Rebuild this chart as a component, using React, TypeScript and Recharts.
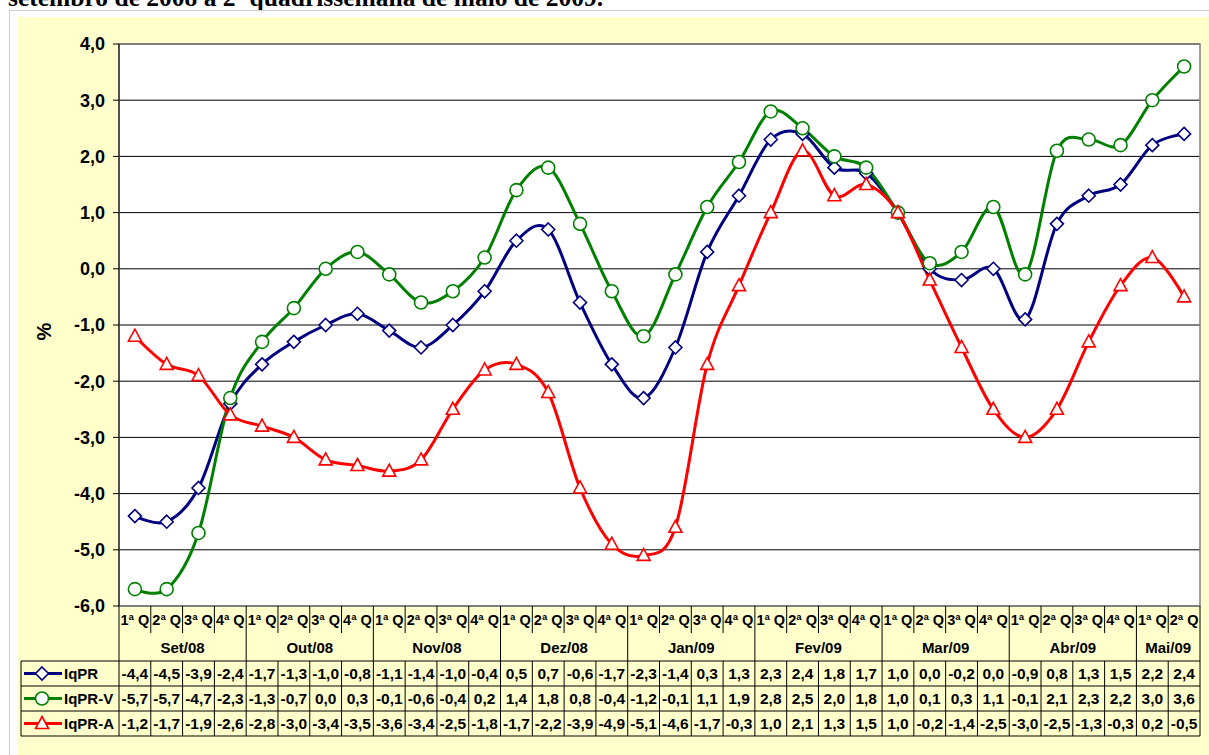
import React from "react";
import {
  ComposedChart,
  Line,
  XAxis,
  YAxis,
  CartesianGrid,
  ReferenceArea,
} from "recharts";

const QUADS = ["1ª Q", "2ª Q", "3ª Q", "4ª Q"];
const MONTHS = ["Set/08", "Out/08", "Nov/08", "Dez/08", "Jan/09", "Fev/09", "Mar/09", "Abr/09", "Mai/09"];
const MONTH_SIZES = [4, 4, 4, 4, 4, 4, 4, 4, 2];

const IQPR = [-4.4, -4.5, -3.9, -2.4, -1.7, -1.3, -1.0, -0.8, -1.1, -1.4, -1.0, -0.4, 0.5, 0.7, -0.6, -1.7, -2.3, -1.4, 0.3, 1.3, 2.3, 2.4, 1.8, 1.7, 1.0, 0.0, -0.2, 0.0, -0.9, 0.8, 1.3, 1.5, 2.2, 2.4];
const IQPR_V = [-5.7, -5.7, -4.7, -2.3, -1.3, -0.7, 0.0, 0.3, -0.1, -0.6, -0.4, 0.2, 1.4, 1.8, 0.8, -0.4, -1.2, -0.1, 1.1, 1.9, 2.8, 2.5, 2.0, 1.8, 1.0, 0.1, 0.3, 1.1, -0.1, 2.1, 2.3, 2.2, 3.0, 3.6];
const IQPR_A = [-1.2, -1.7, -1.9, -2.6, -2.8, -3.0, -3.4, -3.5, -3.6, -3.4, -2.5, -1.8, -1.7, -2.2, -3.9, -4.9, -5.1, -4.6, -1.7, -0.3, 1.0, 2.1, 1.3, 1.5, 1.0, -0.2, -1.4, -2.5, -3.0, -2.5, -1.3, -0.3, 0.2, -0.5];

const Y_TICKS = [-6, -5, -4, -3, -2, -1, 0, 1, 2, 3, 4];

const SERIES = [
  { key: "iqpr", name: "IqPR", values: IQPR, color: "#000080", marker: "diamond" },
  { key: "iqprV", name: "IqPR-V", values: IQPR_V, color: "#008000", marker: "circle" },
  { key: "iqprA", name: "IqPR-A", values: IQPR_A, color: "#FF0000", marker: "triangle" },
];

const FONT = "Arial, 'Liberation Sans', sans-serif";

// layout
const W = 1209;
const H = 755;
const PLOT_L = 119;
const PLOT_R = 1200;
const PLOT_B = 606;
const CAT_ROW_B = 633;
const MONTH_ROW_B = 661;
const ROW_H = 25;
const TABLE_L = 21;

// category labels + which index starts a month
const quadLabels: string[] = [];
const monthStart: Record<number, number> = {};
MONTH_SIZES.forEach((n, m) => {
  monthStart[quadLabels.length] = m;
  for (let j = 0; j < n; j++) quadLabels.push(QUADS[j]);
});

const data = quadLabels.map((q, i) => ({
  idx: i,
  q,
  iqpr: IQPR[i],
  iqprV: IQPR_V[i],
  iqprA: IQPR_A[i],
}));

const BAND = (PLOT_R - PLOT_L) / data.length;
const fmt = (v: number) => v.toFixed(1).replace(".", ",");

// Excel-like smoothing (Catmull-Rom)
const smooth = (context: any) => {
  let x0 = NaN, y0 = NaN, x1 = NaN, y1 = NaN, x2 = NaN, y2 = NaN;
  let pt = 0;
  let line = NaN;
  const k = 1 / 6;
  const seg = (x: number, y: number) =>
    context.bezierCurveTo(
      x1 + k * (x2 - x0),
      y1 + k * (y2 - y0),
      x2 + k * (x1 - x),
      y2 + k * (y1 - y),
      x2,
      y2
    );
  return {
    areaStart() { line = 0; },
    areaEnd() { line = NaN; },
    lineStart() { x0 = x1 = x2 = y0 = y1 = y2 = NaN; pt = 0; },
    lineEnd() {
      if (pt === 2) context.lineTo(x2, y2);
      else if (pt === 3) seg(x1, y1);
      if (line || (line !== 0 && pt === 1)) context.closePath();
      line = 1 - line;
    },
    point(x: number, y: number) {
      x = +x; y = +y;
      switch (pt) {
        case 0:
          pt = 1;
          line ? context.lineTo(x, y) : context.moveTo(x, y);
          break;
        case 1:
          pt = 2;
          x1 = x; y1 = y;
          break;
        case 2:
          pt = 3;
          seg(x, y);
          break;
        default:
          seg(x, y);
      }
      x0 = x1; x1 = x2; x2 = x;
      y0 = y1; y1 = y2; y2 = y;
    },
  };
};

function Marker({ kind, cx, cy, color }: { kind: string; cx: number; cy: number; color: string }) {
  if (kind === "circle") {
    return <circle cx={cx} cy={cy} r={6.5} fill="#fff" stroke={color} strokeWidth={1.6} />;
  }
  if (kind === "diamond") {
    return (
      <path
        d={`M${cx},${cy - 6.5} L${cx + 6.5},${cy} L${cx},${cy + 6.5} L${cx - 6.5},${cy} Z`}
        fill="#fff"
        stroke={color}
        strokeWidth={1.6}
      />
    );
  }
  return (
    <path
      d={`M${cx},${cy - 7} L${cx + 6.5},${cy + 5} L${cx - 6.5},${cy + 5} Z`}
      fill="#fff"
      stroke={color}
      strokeWidth={1.6}
    />
  );
}

const makeDot = (kind: string, color: string) => (props: any) => {
  const { cx, cy, index } = props;
  if (cx == null || cy == null) return <g key={`d-${kind}-${index}`} />;
  return (
    <g key={`d-${kind}-${index}`}>
      <Marker kind={kind} cx={cx} cy={cy} color={color} />
    </g>
  );
};

// x axis tick draws one column of the data table
const TableColumn = (props: any) => {
  const { x, payload } = props;
  const i = payload.value as number;
  const left = x - BAND / 2;
  const right = x + BAND / 2;
  const tableB = MONTH_ROW_B + ROW_H * SERIES.length;
  const m = monthStart[i];
  const isStart = m !== undefined;
  const txt = { fontFamily: FONT, fontWeight: "bold" as const, fill: "#000" };

  return (
    <g>
      {i === 0 && (
        <g>
          {[0, 1, 2, 3].map((r) => (
            <line
              key={`h${r}`}
              x1={TABLE_L}
              x2={PLOT_R}
              y1={MONTH_ROW_B + r * ROW_H}
              y2={MONTH_ROW_B + r * ROW_H}
              stroke="#000"
            />
          ))}
          <line x1={TABLE_L} x2={TABLE_L} y1={MONTH_ROW_B} y2={tableB} stroke="#000" />
          {SERIES.map((s, r) => {
            const cy = MONTH_ROW_B + r * ROW_H + ROW_H / 2;
            return (
              <g key={s.key}>
                <line x1={24} x2={62} y1={cy} y2={cy} stroke={s.color} strokeWidth={3} />
                <Marker kind={s.marker} cx={42} cy={cy} color={s.color} />
                <text x={64} y={cy + 5.5} fontSize={15} {...txt}>
                  {s.name}
                </text>
              </g>
            );
          })}
        </g>
      )}
      <line
        x1={left}
        x2={left}
        y1={PLOT_B}
        y2={isStart ? tableB : CAT_ROW_B}
        stroke="#000"
      />
      {!isStart && <line x1={left} x2={left} y1={MONTH_ROW_B} y2={tableB} stroke="#000" />}
      {i === data.length - 1 && (
        <line x1={right} x2={right} y1={PLOT_B} y2={tableB} stroke="#000" />
      )}
      <text x={x} y={624.5} fontSize={14.5} textAnchor="middle" {...txt}>
        {quadLabels[i]}
      </text>
      {isStart && (
        <text
          x={left + (MONTH_SIZES[m] * BAND) / 2}
          y={652.5}
          fontSize={15}
          textAnchor="middle"
          {...txt}
        >
          {MONTHS[m]}
        </text>
      )}
      {SERIES.map((s, r) => (
        <text
          key={s.key}
          x={x}
          y={MONTH_ROW_B + r * ROW_H + ROW_H / 2 + 5.5}
          fontSize={15.5}
          textAnchor="middle"
          {...txt}
        >
          {fmt(s.values[i])}
        </text>
      ))}
    </g>
  );
};

export default function App() {
  return (
    <div style={{ position: "absolute", left: 0, top: 0, width: W, height: H, overflow: "hidden", background: "#fff" }}>
      <div
        style={{
          position: "absolute",
          left: 8,
          top: -17,
          fontFamily: "'Times New Roman', 'Liberation Serif', serif",
          fontWeight: "bold",
          fontSize: 25.5,
          whiteSpace: "nowrap",
          color: "#000",
        }}
      >
        setembro de 2008 a 2ª quadrissemana de maio de 2009.
      </div>
      <div
        style={{
          position: "absolute",
          left: 9,
          top: 10,
          width: W,
          height: H,
          border: "1px solid #cfcfcf",
          background: "#fff",
        }}
      />
      <div
        style={{
          position: "absolute",
          left: 17,
          top: 17,
          width: W,
          height: H,
          background: "#FFFFCC",
        }}
      />
      <div
        style={{
          position: "absolute",
          left: 36,
          top: 320,
          fontFamily: FONT,
          fontWeight: "bold",
          fontSize: 20,
          transform: "rotate(-90deg)",
          color: "#000",
        }}
      >
        %
      </div>
      <div style={{ position: "absolute", left: 0, top: 0 }}>
        <ComposedChart
          width={W}
          height={H}
          data={data}
          margin={{ top: 44, right: W - PLOT_R, left: PLOT_L - 100, bottom: H - PLOT_B - 130 }}
        >
          <CartesianGrid vertical={false} stroke="#000" fill="#fff" fillOpacity={1} />
          <XAxis
            dataKey="idx"
            type="category"
            scale="band"
            height={130}
            interval={0}
            axisLine={false}
            tickLine={false}
            tick={TableColumn}
          />
          <YAxis
            width={100}
            type="number"
            domain={[-6, 4]}
            ticks={Y_TICKS}
            interval={0}
            tickFormatter={fmt}
            stroke="#000"
            tickSize={6}
            tickMargin={8}
            tick={{ fill: "#000", fontSize: 18, fontWeight: "bold", fontFamily: FONT }}
          />
          <ReferenceArea y1={-6} y2={4} fill="none" stroke="#808080" strokeWidth={1.5} ifOverflow="visible" />
          {SERIES.map((s) => (
            <Line
              key={s.key}
              dataKey={s.key}
              name={s.name}
              type={smooth as any}
              stroke={s.color}
              strokeWidth={3}
              dot={makeDot(s.marker, s.color)}
              activeDot={false}
              isAnimationActive={false}
            />
          ))}
        </ComposedChart>
      </div>
    </div>
  );
}
